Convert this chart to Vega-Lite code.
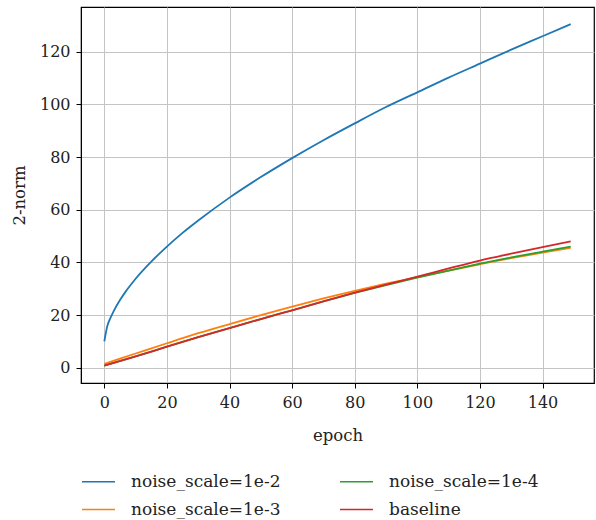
{
  "$schema": "https://vega.github.io/schema/vega-lite/v6.json",
  "width": 513,
  "height": 376,
  "autosize": {"type": "none"},
  "padding": {"left": 81, "top": 7, "right": 2, "bottom": 137},
  "background": "white",
  "config": {
    "font": "DejaVu Serif",
    "view": {"stroke": "black", "strokeWidth": 1.2},
    "axis": {
      "labelFont": "DejaVu Serif",
      "titleFont": "DejaVu Serif",
      "labelFontSize": 16,
      "titleFontSize": 16.5,
      "titleFontWeight": "normal",
      "labelColor": "#222",
      "titleColor": "#222",
      "domainColor": "black",
      "tickColor": "black",
      "tickSize": 5,
      "labelPadding": 6,
      "gridColor": "#c4c4c4",
      "gridWidth": 1,
      "grid": true
    },
    "legend": {
      "labelFont": "DejaVu Serif",
      "labelFontSize": 17,
      "labelColor": "#222"
    }
  },
  "data": {
    "values": [
      {"epoch": 0, "value": 10, "series": "noise_scale=1e-2"},
      {"epoch": 1, "value": 16, "series": "noise_scale=1e-2"},
      {"epoch": 2, "value": 19, "series": "noise_scale=1e-2"},
      {"epoch": 3, "value": 21.5, "series": "noise_scale=1e-2"},
      {"epoch": 5, "value": 25.7, "series": "noise_scale=1e-2"},
      {"epoch": 7, "value": 29.2, "series": "noise_scale=1e-2"},
      {"epoch": 10, "value": 33.8, "series": "noise_scale=1e-2"},
      {"epoch": 15, "value": 40.3, "series": "noise_scale=1e-2"},
      {"epoch": 20, "value": 46, "series": "noise_scale=1e-2"},
      {"epoch": 25, "value": 51.2, "series": "noise_scale=1e-2"},
      {"epoch": 30, "value": 55.9, "series": "noise_scale=1e-2"},
      {"epoch": 40, "value": 64.6, "series": "noise_scale=1e-2"},
      {"epoch": 50, "value": 72.4, "series": "noise_scale=1e-2"},
      {"epoch": 60, "value": 79.6, "series": "noise_scale=1e-2"},
      {"epoch": 70, "value": 86.4, "series": "noise_scale=1e-2"},
      {"epoch": 80, "value": 92.8, "series": "noise_scale=1e-2"},
      {"epoch": 90, "value": 99, "series": "noise_scale=1e-2"},
      {"epoch": 100, "value": 104.6, "series": "noise_scale=1e-2"},
      {"epoch": 110, "value": 110.2, "series": "noise_scale=1e-2"},
      {"epoch": 120, "value": 115.5, "series": "noise_scale=1e-2"},
      {"epoch": 130, "value": 120.8, "series": "noise_scale=1e-2"},
      {"epoch": 140, "value": 125.9, "series": "noise_scale=1e-2"},
      {"epoch": 149, "value": 130.5, "series": "noise_scale=1e-2"},

      {"epoch": 0, "value": 1.5, "series": "noise_scale=1e-3"},
      {"epoch": 10, "value": 5.4, "series": "noise_scale=1e-3"},
      {"epoch": 20, "value": 9.3, "series": "noise_scale=1e-3"},
      {"epoch": 30, "value": 13.1, "series": "noise_scale=1e-3"},
      {"epoch": 40, "value": 16.6, "series": "noise_scale=1e-3"},
      {"epoch": 50, "value": 20.0, "series": "noise_scale=1e-3"},
      {"epoch": 60, "value": 23.2, "series": "noise_scale=1e-3"},
      {"epoch": 70, "value": 26.3, "series": "noise_scale=1e-3"},
      {"epoch": 80, "value": 29.2, "series": "noise_scale=1e-3"},
      {"epoch": 90, "value": 31.9, "series": "noise_scale=1e-3"},
      {"epoch": 100, "value": 34.4, "series": "noise_scale=1e-3"},
      {"epoch": 110, "value": 36.9, "series": "noise_scale=1e-3"},
      {"epoch": 120, "value": 39.3, "series": "noise_scale=1e-3"},
      {"epoch": 130, "value": 41.6, "series": "noise_scale=1e-3"},
      {"epoch": 140, "value": 43.7, "series": "noise_scale=1e-3"},
      {"epoch": 149, "value": 45.5, "series": "noise_scale=1e-3"},

      {"epoch": 0, "value": 0.8, "series": "noise_scale=1e-4"},
      {"epoch": 10, "value": 4.3, "series": "noise_scale=1e-4"},
      {"epoch": 20, "value": 8.0, "series": "noise_scale=1e-4"},
      {"epoch": 30, "value": 11.6, "series": "noise_scale=1e-4"},
      {"epoch": 40, "value": 15.0, "series": "noise_scale=1e-4"},
      {"epoch": 50, "value": 18.5, "series": "noise_scale=1e-4"},
      {"epoch": 60, "value": 21.8, "series": "noise_scale=1e-4"},
      {"epoch": 70, "value": 25.2, "series": "noise_scale=1e-4"},
      {"epoch": 80, "value": 28.4, "series": "noise_scale=1e-4"},
      {"epoch": 90, "value": 31.4, "series": "noise_scale=1e-4"},
      {"epoch": 100, "value": 34.2, "series": "noise_scale=1e-4"},
      {"epoch": 110, "value": 36.9, "series": "noise_scale=1e-4"},
      {"epoch": 120, "value": 39.5, "series": "noise_scale=1e-4"},
      {"epoch": 130, "value": 41.9, "series": "noise_scale=1e-4"},
      {"epoch": 140, "value": 44.1, "series": "noise_scale=1e-4"},
      {"epoch": 149, "value": 46.0, "series": "noise_scale=1e-4"},

      {"epoch": 0, "value": 0.8, "series": "baseline"},
      {"epoch": 10, "value": 4.3, "series": "baseline"},
      {"epoch": 20, "value": 8.0, "series": "baseline"},
      {"epoch": 30, "value": 11.6, "series": "baseline"},
      {"epoch": 40, "value": 15.0, "series": "baseline"},
      {"epoch": 50, "value": 18.5, "series": "baseline"},
      {"epoch": 60, "value": 21.8, "series": "baseline"},
      {"epoch": 70, "value": 25.2, "series": "baseline"},
      {"epoch": 80, "value": 28.5, "series": "baseline"},
      {"epoch": 90, "value": 31.6, "series": "baseline"},
      {"epoch": 100, "value": 34.6, "series": "baseline"},
      {"epoch": 110, "value": 37.7, "series": "baseline"},
      {"epoch": 120, "value": 40.7, "series": "baseline"},
      {"epoch": 130, "value": 43.3, "series": "baseline"},
      {"epoch": 140, "value": 45.8, "series": "baseline"},
      {"epoch": 149, "value": 48.0, "series": "baseline"}
    ]
  },
  "mark": {"type": "line", "strokeWidth": 1.8, "interpolate": "monotone"},
  "encoding": {
    "x": {
      "field": "epoch",
      "type": "quantitative",
      "scale": {"domain": [-7.45, 156.45], "nice": false, "zero": false},
      "axis": {"values": [0, 20, 40, 60, 80, 100, 120, 140], "title": "epoch", "titlePadding": 17}
    },
    "y": {
      "field": "value",
      "type": "quantitative",
      "scale": {"domain": [-5.8, 137], "nice": false, "zero": false},
      "axis": {"values": [0, 20, 40, 60, 80, 100, 120], "title": "2-norm", "titlePadding": 12}
    },
    "color": {
      "field": "series",
      "type": "nominal",
      "scale": {
        "domain": ["noise_scale=1e-2", "noise_scale=1e-3", "noise_scale=1e-4", "baseline"],
        "range": ["#1f77b4", "#ff7f0e", "#2ca02c", "#d62728"]
      },
      "legend": {
        "title": null,
        "orient": "none",
        "legendX": 0,
        "legendY": 457,
        "columns": 2,
        "columnPadding": 56,
        "rowPadding": 2,
        "symbolType": "stroke",
        "symbolSize": 1089,
        "symbolStrokeWidth": 1.5,
        "labelOffset": 15,
        "labelLimit": 300
      }
    },
    "order": {"field": "series"}
  }
}
